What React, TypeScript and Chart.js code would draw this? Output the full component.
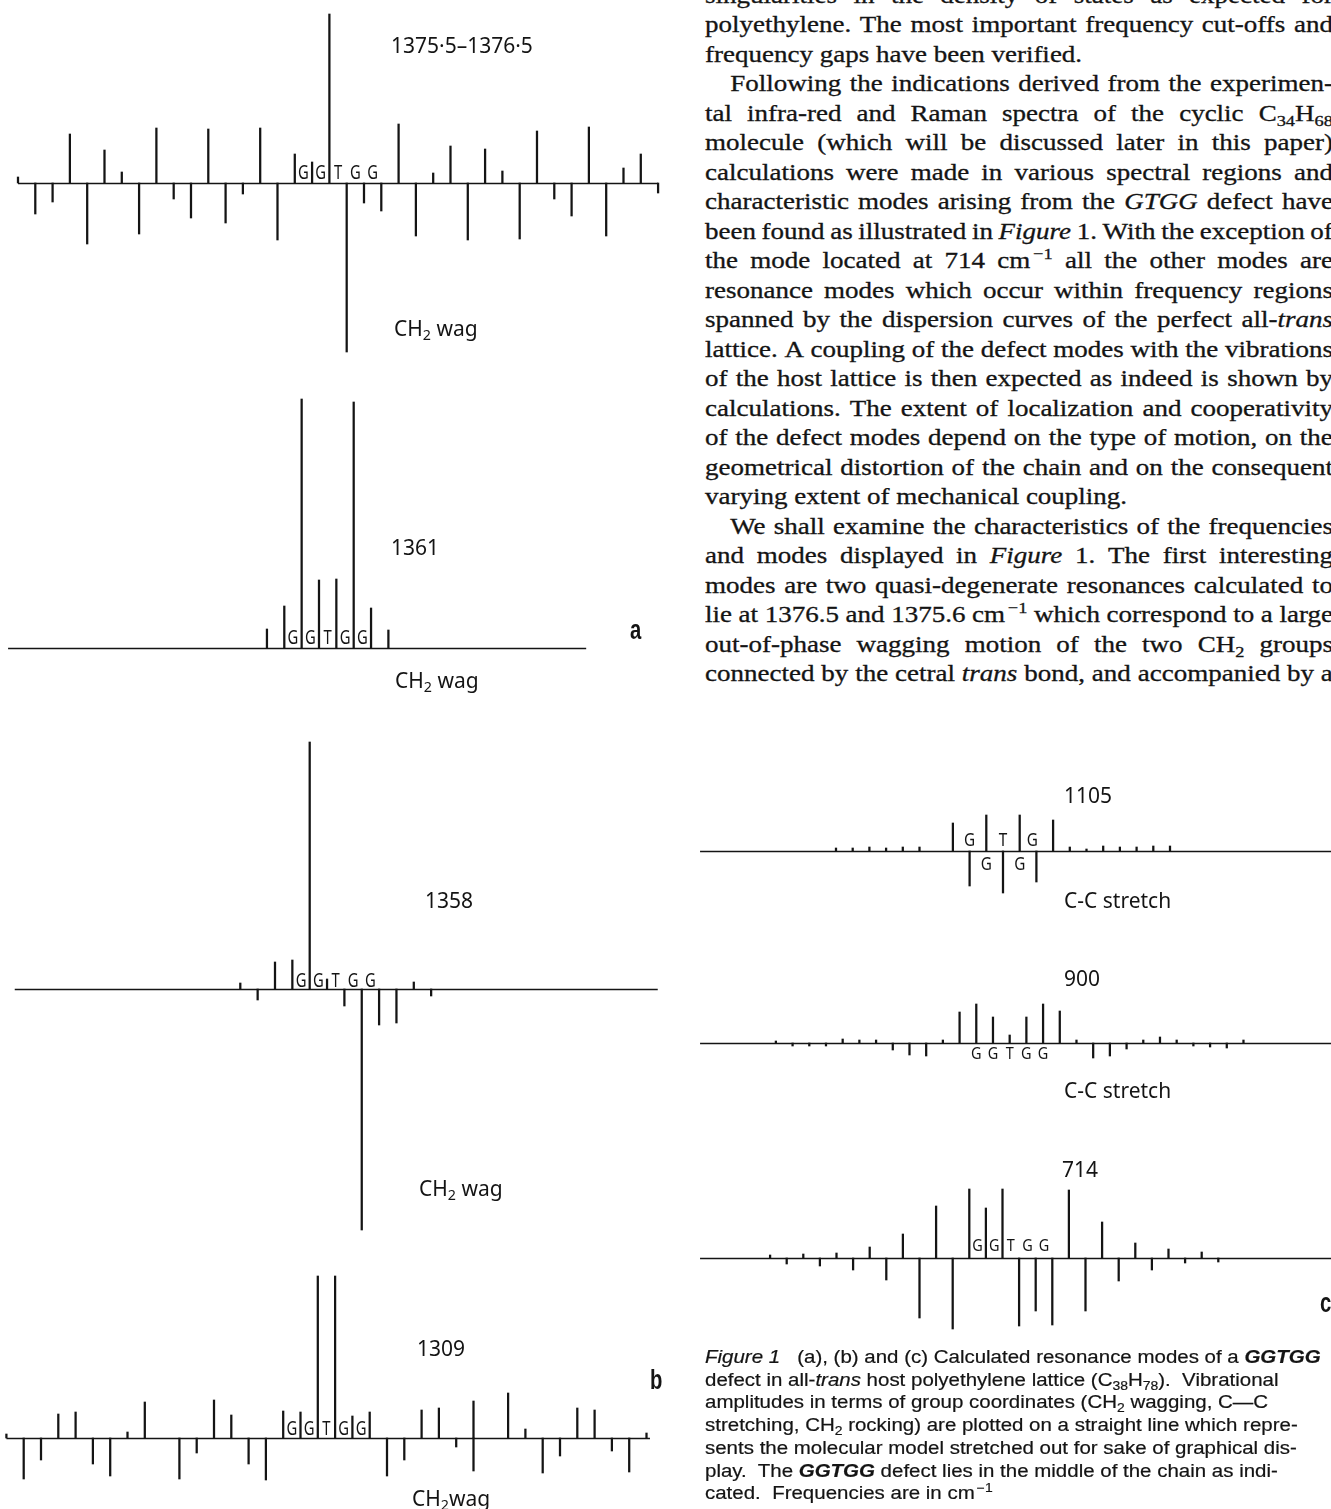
import React, { useEffect, useRef } from "react";
import { Chart, registerables } from "chart.js";

Chart.register(...registerables);

const INK = "#141414";

// ---------------- data: chain sites and vibrational amplitudes ----------------
// (a) 1375.5–1376.5 cm-1, CH2 wag
const sites1376 = [0, 1, 2, 3, 4, 5, 6, 7, 8, 9, 10, 11, 12, 13, 14, 15, 16, 17, 18, 19, 20, 21, 22, 23, 24, 25, 26, 27, 28, 29, 30, 31, 32, 33, 34, 35, 36, 37];
const amps1376 = [6, -31, -19, 49, -61, 33, 11, -51, 55, -16, -35, 54, -40, -11, 55, -57, 29, 21, 169, -169, -20, -28, 59, -53, 10, 37, -57, 34, 12, -56, 52, -16, -33, 56, -53, 15, 29, -10];

// (a) 1361 cm-1, CH2 wag
const sites1361 = [15, 16, 17, 18, 19, 20, 21, 22];
const amps1361 = [19, 42, 249, 68, 69, 246, 40, 18];

// (b) 1358 cm-1, CH2 wag
const sites1358 = [13, 14, 15, 16, 17, 18, 19, 20, 21, 22, 23, 24];
const amps1358 = [6, -11, 27, 29, 247, 10, -17, -241, -36, -34, 7, -7];

// (b) 1309 cm-1, CH2 wag
const sites1309 = [0, 1, 2, 3, 4, 5, 6, 7, 8, 10, 11, 12, 13, 14, 15, 16, 17, 18, 19, 20, 21, 22, 23, 24, 25, 26, 27, 27, 29, 30, 31, 32, 33, 34, 35, 36, 37];
const amps1309 = [4, -41, -22, 24, 26, -26, -38, 6, 36, -41, -15, 38, 23, -26, -42, 27, 26, 162, 162, 22, 26, -38, -22, 28, 30, -9, -33, 37, 45, 9, -35, -18, 30, 28, -13, -34, 5];

// (c) 1105 cm-1, C-C stretch
const sites1105 = [9, 10, 11, 12, 13, 14, 16, 17, 18, 19, 20, 21, 22, 23, 24, 25, 26, 27, 28, 29];
const amps1105 = [3, 3, 4, 3, 4, 4, 28, -35, 36, -42, 36, -31, 31, 4, 2, 5, 4, 4, 5, 5];

// (c) 900 cm-1, C-C stretch
const sites900 = [5, 6, 7, 8, 9, 10, 11, 12, 13, 14, 15, 16, 17, 18, 19, 20, 21, 22, 23, 24, 25, 26, 27, 28, 29, 30, 31, 32, 33];
const amps900 = [2, -3, -3, -3, 4, 3, 3, -7, -12, -13, 3, 31, 39, 26, 8, 26, 39, 32, 3, -15, -13, -6, 3, 6, 3, -3, -4, -5, 3];

// (c) 714 cm-1
const sites714 = [4, 5, 6, 7, 8, 9, 10, 11, 12, 13, 14, 15, 16, 17, 18, 19, 20, 21, 22, 23, 24, 25, 26, 27, 28, 29, 30, 31];
const amps714 = [3, -6, 4, -8, 5, -12, 11, -22, 24, -60, 52, -71, 69, 50, 69, -68, -53, -67, 68, -53, 36, -23, 15, -12, 9, -5, 6, -4];

// defect labels (G/T) placed along the chain
const defectCentres = [16.5, 17.5, 18.5, 19.5, 20.5];
const defectLetters = ["G", "G", "T", "G", "G"];
const upperBondSites = [17, 19, 20.75];
const upperBondLetters = ["G", "T", "G"];
const lowerBondSites = [18, 20];
const lowerBondLetters = ["G", "G"];
const bondSites900 = [17, 18, 19, 20, 21];

// ---------------- text ----------------
const paraLines = [
  "singularities in the density of states as expected for",
  "polyethylene. The most important frequency cut-offs and",
  "frequency gaps have been verified.",
  "Following the indications derived from the experimen-",
  "tal infra-red and Raman spectra of the cyclic C~34~H~68~",
  "molecule (which will be discussed later in this paper)",
  "calculations were made in various spectral regions and",
  "characteristic modes arising from the _GTGG_ defect have",
  "been found as illustrated in _Figure_ 1. With the exception of",
  "the mode located at 714 cm^\u22121^ all the other modes are",
  "resonance modes which occur within frequency regions",
  "spanned by the dispersion curves of the perfect all-_trans_",
  "lattice. A coupling of the defect modes with the vibrations",
  "of the host lattice is then expected as indeed is shown by",
  "calculations. The extent of localization and cooperativity",
  "of the defect modes depend on the type of motion, on the",
  "geometrical distortion of the chain and on the consequent",
  "varying extent of mechanical coupling.",
  "We shall examine the characteristics of the frequencies",
  "and modes displayed in _Figure_ 1. The first interesting",
  "modes are two quasi-degenerate resonances calculated to",
  "lie at 1376.5 and 1375.6 cm^\u22121^ which correspond to a large",
  "out-of-phase wagging motion of the two CH~2~ groups",
  "connected by the cetral _trans_ bond, and accompanied by a",
];
const paraLast = [2, 17];
const paraIndent = [3, 18];

const captionLines = [
  "_Figure 1_   (a), (b) and (c) Calculated resonance modes of a *GGTGG*",
  "defect in all-_trans_ host polyethylene lattice (C~38~H~78~).  Vibrational",
  "amplitudes in terms of group coordinates (CH~2~ wagging, C\u2014C",
  "stretching, CH~2~ rocking) are plotted on a straight line which repre-",
  "sents the molecular model stretched out for sake of graphical dis-",
  "play.  The *GGTGG* defect lies in the middle of the chain as indi-",
  "cated.  Frequencies are in cm^\u22121^",
];

// ---------------- plugins ----------------
const baselinePlugin = {
  id: "chainLine",
  beforeDatasetsDraw(chart: any, _a: any, opts: any) {
    const { ctx } = chart;
    const xs = chart.scales.x;
    const ys = chart.scales.y;
    const yy = Math.round(ys.getPixelForValue(0)) + 0.5;
    ctx.save();
    ctx.strokeStyle = INK;
    ctx.lineWidth = 1.5;
    ctx.beginPath();
    ctx.moveTo(xs.getPixelForValue(opts.from), yy);
    ctx.lineTo(xs.getPixelForValue(opts.to), yy);
    ctx.stroke();
    ctx.restore();
  },
};

const lettersPlugin = {
  id: "chainLetters",
  afterDatasetsDraw(chart: any, _a: any, opts: any) {
    const { ctx } = chart;
    const xs = chart.scales.x;
    const ys = chart.scales.y;
    const items = opts.items || [];
    ctx.save();
    ctx.fillStyle = INK;
    ctx.font = `${opts.size || 18}px "Noto Sans", "DejaVu Sans", sans-serif`;
    ctx.textAlign = "center";
    ctx.textBaseline = "middle";
    for (let i = 0; i < items.length; i++) {
      const it = items[i];
      const px = xs.getPixelForValue(it.x);
      const py = ys.getPixelForValue(it.y);
      ctx.save();
      ctx.translate(px, py);
      ctx.scale(opts.squeeze || 0.72, 1);
      ctx.fillText(it.t, 0, 0);
      ctx.restore();
    }
    ctx.restore();
  },
};

type Letter = { x: number; y: number; t: string };

function letterRow(xs: number[], ts: string[], y: number): Letter[] {
  return xs.map((x, i) => ({ x, y, t: ts[i] }));
}

type StickProps = {
  left: number;
  top: number;
  width: number;
  height: number;
  xMin: number;
  pxPerSite: number;
  yTop: number;
  sites: number[];
  amps: number[];
  from: number;
  to?: number;
  letters: Letter[];
  letterSize: number;
  squeeze: number;
};

function StickChart(p: StickProps) {
  const ref = useRef<HTMLCanvasElement>(null);
  useEffect(() => {
    const xMax = p.xMin + p.width / p.pxPerSite;
    const chart = new Chart(ref.current as HTMLCanvasElement, {
      type: "bar",
      data: {
        datasets: [
          {
            data: p.sites.map((s, i) => ({ x: s, y: p.amps[i] })),
            backgroundColor: INK,
            borderWidth: 0,
            barThickness: 1.6,
          } as any,
        ],
      },
      options: {
        animation: false,
        responsive: false,
        maintainAspectRatio: false,
        layout: { padding: 0 },
        events: [],
        plugins: {
          legend: { display: false },
          tooltip: { enabled: false },
          chainLine: { from: p.from, to: p.to === undefined ? xMax : p.to },
          chainLetters: { items: p.letters, size: p.letterSize, squeeze: p.squeeze },
        } as any,
        scales: {
          x: { type: "linear", min: p.xMin, max: xMax, display: false, offset: false },
          y: { type: "linear", min: p.yTop - p.height, max: p.yTop, display: false },
        },
      },
      plugins: [baselinePlugin, lettersPlugin],
    });
    return () => chart.destroy();
  }, []);
  return (
    <canvas
      ref={ref}
      width={p.width}
      height={p.height}
      style={{ position: "absolute", left: p.left, top: p.top, width: p.width, height: p.height }}
    />
  );
}

// ---------------- rich text helpers ----------------
function rich(s: string): React.ReactNode[] {
  const parts = s.split(/(\*[^*]+\*|_[^_]+_|~[^~]+~|\^[^^]+\^)/);
  const out: React.ReactNode[] = [];
  parts.forEach((part, i) => {
    if (!part) return;
    const c = part[0];
    if (part.length > 2 && part[part.length - 1] === c && "*_~^".includes(c)) {
      const b = part.slice(1, -1);
      if (c === "*") out.push(<b key={i}><i>{b}</i></b>);
      else if (c === "_") out.push(<i key={i}>{b}</i>);
      else if (c === "~")
        out.push(<span key={i} style={{ fontSize: "0.68em", verticalAlign: "-0.32em", lineHeight: 0 }}>{b}</span>);
      else
        out.push(<span key={i} style={{ fontSize: "0.68em", verticalAlign: "0.6em", lineHeight: 0, marginLeft: "0.15em" }}>{b}</span>);
    } else out.push(<React.Fragment key={i}>{part}</React.Fragment>);
  });
  return out;
}

const PARA_LEFT = 705;
const PARA_FIRST = -4.5;
const PARA_STEP = 29.5;
const PARA_SCALE = 1.2;
const PARA_WIDTH = 628;

function Paragraph() {
  return (
    <>
      {paraLines.map((line, k) => {
        const last = paraLast.includes(k);
        const indent = paraIndent.includes(k);
        const cy = PARA_FIRST + k * PARA_STEP;
        return (
          <div
            key={k}
            style={{
              position: "absolute",
              left: PARA_LEFT,
              top: cy - 15,
              height: 30,
              lineHeight: "30px",
              width: PARA_WIDTH / PARA_SCALE,
              boxSizing: "border-box",
              paddingLeft: indent ? 21 : 0,
              transform: `scaleX(${PARA_SCALE})`,
              transformOrigin: "0 0",
              display: "flex",
              justifyContent: last ? "flex-start" : "space-between",
              columnGap: last ? "0.25em" : "0.16em",
              fontFamily: '"Liberation Serif", "Times New Roman", serif',
              fontSize: 22.5,
              whiteSpace: "nowrap",
              color: INK,
              WebkitTextStroke: "0.3px #141414",
            } as any}
          >
            {line.split(" ").map((w, j) => (
              <span key={j} style={{ flexShrink: 0 }}>{rich(w)}</span>
            ))}
          </div>
        );
      })}
    </>
  );
}

const CAP_FIRST = 1357;
const CAP_STEP = 22.7;

function Caption() {
  return (
    <>
      {captionLines.map((line, k) => (
        <div
          key={k}
          style={{
            position: "absolute",
            left: 705,
            top: CAP_FIRST + k * CAP_STEP - 11,
            height: 22,
            lineHeight: "22px",
            transform: "scaleX(1.17)",
            transformOrigin: "0 0",
            fontFamily: '"Liberation Sans", Arial, sans-serif',
            fontSize: 17.5,
            whiteSpace: "pre",
            color: INK,
            WebkitTextStroke: "0.2px #141414",
          } as any}
        >
          {rich(line)}
        </div>
      ))}
    </>
  );
}

function Label(props: { x: number; y: number; size?: number; bold?: boolean; squeeze?: number; children: React.ReactNode }) {
  return (
    <div
      style={{
        position: "absolute",
        left: props.x,
        top: props.y,
        transform: `translateY(-50%) scaleX(${props.squeeze || 1})`,
        transformOrigin: "0 50%",
        whiteSpace: "nowrap",
        lineHeight: 1,
        fontFamily: props.bold ? '"Liberation Sans", Arial, sans-serif' : '"Noto Sans", "DejaVu Sans", sans-serif',
        fontWeight: props.bold ? 700 : 400,
        fontSize: props.size || 21,
        color: INK,
      }}
    >
      {props.children}
    </div>
  );
}

const Sub = ({ children }: { children: React.ReactNode }) => (
  <span style={{ fontSize: "0.68em", verticalAlign: "-0.32em", lineHeight: 0 }}>{children}</span>
);

export default function App() {
  return (
    <div
      style={{
        position: "absolute",
        left: 0,
        top: 0,
        width: 1331,
        height: 1509,
        overflow: "hidden",
        background: "#ffffff",
      }}
    >
      {/* left column, panel a */}
      <StickChart left={0} top={0} width={670} height={360} xMin={-1.04} pxPerSite={17.3} yTop={183}
        sites={sites1376} amps={amps1376} from={0} to={37}
        letters={letterRow(defectCentres, defectLetters, 10)} letterSize={20} squeeze={0.74} />
      <StickChart left={0} top={380} width={670} height={300} xMin={-0.386} pxPerSite={17.35} yTop={268}
        sites={sites1361} amps={amps1361} from={0.08} to={33.4}
        letters={letterRow(defectCentres, defectLetters, 10)} letterSize={20} squeeze={0.74} />
      {/* panel b */}
      <StickChart left={0} top={730} width={670} height={510} xMin={-0.85} pxPerSite={17.35} yTop={259}
        sites={sites1358} amps={amps1358} from={0} to={37.06}
        letters={letterRow(defectCentres, defectLetters, 7.5)} letterSize={20} squeeze={0.74} />
      <StickChart left={0} top={1265} width={670} height={244} xMin={-0.37} pxPerSite={17.3} yTop={173}
        sites={sites1309} amps={amps1309} from={0} to={37.2}
        letters={letterRow(defectCentres, defectLetters, 8.5)} letterSize={20} squeeze={0.74} />
      {/* panel c */}
      <StickChart left={670} top={780} width={661} height={130} xMin={-0.94} pxPerSite={16.7} yTop={71}
        sites={sites1105} amps={amps1105} from={0.86}
        letters={[...letterRow(upperBondSites, upperBondLetters, 10), ...letterRow(lowerBondSites, lowerBondLetters, -14)]}
        letterSize={18} squeeze={0.85} />
      <StickChart left={670} top={990} width={661} height={100} xMin={-1.34} pxPerSite={16.7} yTop={53}
        sites={sites900} amps={amps900} from={0.46}
        letters={letterRow(bondSites900, defectLetters, -11)} letterSize={17} squeeze={0.85} />
      <StickChart left={670} top={1150} width={661} height={200} xMin={-2.03} pxPerSite={16.6} yTop={108}
        sites={sites714} amps={amps714} from={-0.22}
        letters={letterRow(defectCentres, defectLetters, 11.5)} letterSize={17} squeeze={0.85} />

      {/* labels, left */}
      <Label x={391} y={45}>1375·5–1376·5</Label>
      <Label x={394} y={328}>CH<Sub>2</Sub> wag</Label>
      <Label x={391} y={547}>1361</Label>
      <Label x={630} y={630} bold size={27} squeeze={0.75}>a</Label>
      <Label x={395} y={680}>CH<Sub>2</Sub> wag</Label>
      <Label x={425} y={900}>1358</Label>
      <Label x={419} y={1188}>CH<Sub>2</Sub> wag</Label>
      <Label x={417} y={1348}>1309</Label>
      <Label x={650} y={1380} bold size={27} squeeze={0.75}>b</Label>
      <Label x={412} y={1498}>CH<Sub>2</Sub>wag</Label>

      {/* labels, right */}
      <Label x={1064} y={795}>1105</Label>
      <Label x={1064} y={900}>C-C stretch</Label>
      <Label x={1064} y={978}>900</Label>
      <Label x={1064} y={1090}>C-C stretch</Label>
      <Label x={1062} y={1169}>714</Label>
      <Label x={1320} y={1303} bold size={27} squeeze={0.75}>c</Label>

      <Paragraph />
      <Caption />
    </div>
  );
}
